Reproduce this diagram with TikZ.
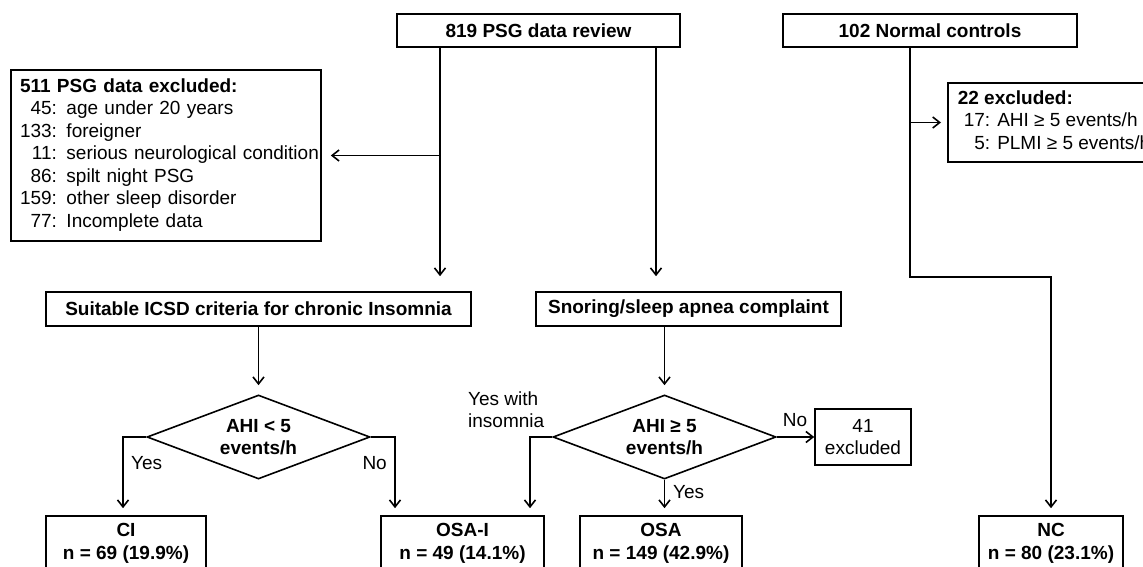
\documentclass[tikz,border=0pt]{standalone}
\usepackage{fontspec}
\setmainfont{Liberation Sans}
\usepackage{tikz}
\usetikzlibrary{shapes.geometric, arrows.meta, positioning, calc}
\newcommand{\flowfont}{\fontsize{19}{22.5}\selectfont}

\begin{document}
\begin{tikzpicture}[
    x=1pt, y=-1pt,
    font=\flowfont,
    box/.style={draw, line width=1.6pt, rectangle, inner sep=2pt,
      minimum height=33pt, align=center, font=\flowfont\bfseries},
    listbox/.style={draw, line width=1.6pt, rectangle, inner xsep=9pt,
      inner ysep=0pt, align=left},
    decision/.style={draw, line width=1.6pt, diamond, aspect=2.65, inner sep=0pt,
      minimum width=223pt, minimum height=84pt, align=center, font=\flowfont\bfseries},
    note/.style={inner sep=0pt, align=left},
    arrow/.style={line width=1.6pt, -{Straight Barb[length=7pt, width=11pt]}}
]
\clip (0,0) rectangle (1143,567);

% top row
\node[box, minimum width=283pt] (review) at (538.5,30.5) {819 PSG data review};
\node[box, minimum width=294pt] (controls) at (930,30.5) {102 Normal controls};

% exclusion boxes
\node[listbox, text width=292pt, minimum height=171pt] (excl) at (166,155.5) {%
  \begin{tabular}{@{}r@{: }l@{}}
  \multicolumn{2}{@{}l@{}}{\bfseries 511 PSG data excluded:}\\
  45 & age under 20 years\\
  133 & foreigner\\
  11 & serious neurological condition\\
  86 & spilt night PSG\\
  159 & other sleep disorder\\
  77 & Incomplete data
  \end{tabular}};
\node[listbox, inner xsep=10pt, minimum height=79pt, anchor=west] (excl22) at (947,122.5) {%
  \begin{tabular}{@{\hspace{6pt}}r@{: }l@{}}
  \multicolumn{2}{@{}l@{}}{\bfseries 22 excluded:}\\
  17 & AHI ≥ 5 events/h\\
  5 & PLMI ≥ 5 events/h
  \end{tabular}};

% second row
\node[box, minimum width=425pt, minimum height=34pt] (icsd) at (258.5,309) {Suitable ICSD criteria for chronic Insomnia};
\node[box, minimum width=305pt, minimum height=34pt] (snore) at (688.5,309) {Snoring/sleep apnea complaint};

% decisions
\node[decision] (dia1) at (258.5,437) {AHI < 5\\events/h};
\node[decision] (dia2) at (664.5,437) {AHI ≥ 5\\events/h};
\node[box, font=\flowfont, minimum width=96pt, minimum height=56pt] (ex41) at (863,437) {41\\excluded};

% groups
\node[box, minimum width=160pt, minimum height=55pt] (ci) at (126,543.5) {CI\\n = 69 (19.9\%)};
\node[box, minimum width=163pt, minimum height=55pt] (osai) at (462.5,543.5) {OSA-I\\n = 49 (14.1\%)};
\node[box, minimum width=162pt, minimum height=55pt] (osa) at (661,543.5) {OSA\\n = 149 (42.9\%)};
\node[box, minimum width=144pt, minimum height=55pt] (nc) at (1051,543.5) {NC\\n = 80 (23.1\%)};

% branch labels
\node[note, anchor=west] (yes1) at (131,463) {Yes};
\node[note, anchor=east] (no1) at (387,463) {No};
\node[note, anchor=west] (yesins) at (468,409.5) {Yes with\\insomnia};
\node[note] (no2) at (795,420) {No};
\node[note, anchor=west] (yes2) at (673,492) {Yes};

% connectors
\coordinate (lsplit) at ([xshift=-98.5pt]review.south);
\coordinate (rsplit) at ([xshift=117.5pt]review.south);
\coordinate (ncsplit) at ([xshift=-20pt]controls.south);

\draw[arrow, shorten >=15pt] (lsplit) -- (lsplit |- icsd.north);
\draw[arrow, shorten >=9pt] (lsplit |- excl.east) -- (excl.east);
\draw[arrow, shorten >=15pt] (rsplit) -- (rsplit |- snore.north);
\draw[arrow, shorten >=9pt] (icsd.south) -- (dia1.north);
\draw[arrow, shorten >=9pt] (snore.south -| dia2.north) -- (dia2.north);
\draw[arrow, shorten >=7pt] (dia1.west) -| ([xshift=-3pt]ci.north);
\draw[arrow, shorten >=7pt] (dia1.east) -| ([xshift=-67.5pt]osai.north);
\draw[arrow, shorten >=7pt] (dia2.west) -| ([xshift=67.5pt]osai.north);
\draw[arrow, shorten >=7pt] (dia2.south) -- (dia2.south |- osa.north);
\draw[arrow] (dia2.east) -- (ex41.west);
\draw[arrow, shorten >=7pt] (ncsplit) |- ([yshift=238pt]nc.north) -- (nc.north);
\draw[arrow, shorten >=6pt] (ncsplit |- excl22.west) -- (excl22.west);
\end{tikzpicture}
\end{document}
